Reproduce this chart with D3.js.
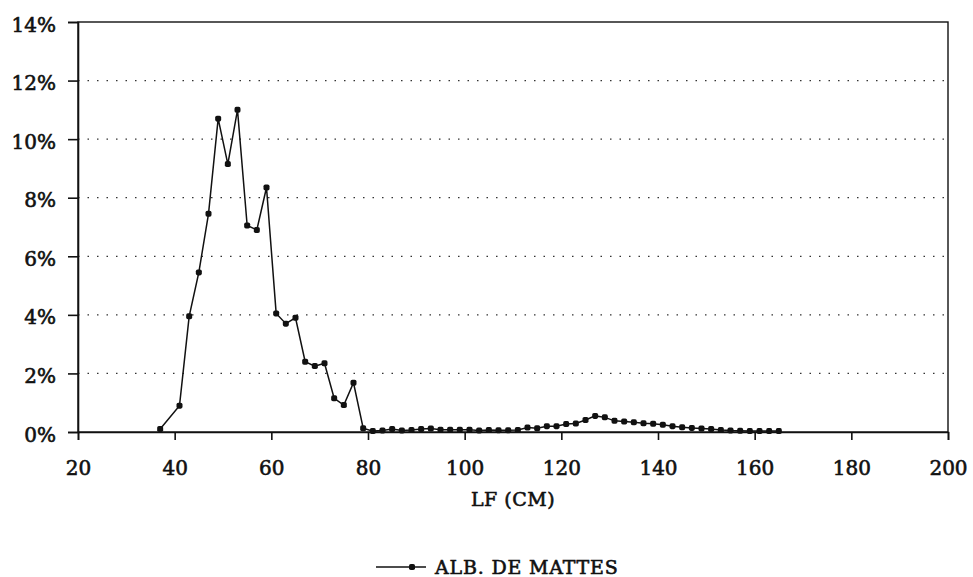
<!DOCTYPE html>
<html><head><meta charset="utf-8">
<script src="https://cdn.jsdelivr.net/npm/d3@7"></script>
<style>
html,body{margin:0;padding:0;background:#fff;}
text{font-family:"DejaVu Serif","Liberation Serif",serif;fill:#111;}
</style></head>
<body>
<svg id="chart" width="973" height="577"></svg>
<script>
const lengths = [37,41,43,45,47,49,51,53,55,57,59,61,63,65,67,69,71,73,75,77,79,81,83,85,87,89,91,93,95,97,99,101,103,105,107,109,111,113,115,117,119,121,123,125,127,129,131,133,135,137,139,141,143,145,147,149,151,153,155,157,159,161,163,165];
const percents = [0.1,0.9,3.95,5.45,7.45,10.7,9.15,11.0,7.05,6.9,8.35,4.05,3.7,3.9,2.4,2.25,2.35,1.15,0.92,1.68,0.13,0.03,0.05,0.1,0.05,0.07,0.1,0.12,0.08,0.08,0.08,0.08,0.05,0.07,0.06,0.06,0.07,0.15,0.13,0.2,0.2,0.27,0.29,0.41,0.55,0.5,0.38,0.36,0.33,0.3,0.28,0.25,0.2,0.16,0.14,0.12,0.1,0.07,0.05,0.04,0.03,0.03,0.03,0.03];
const xTicks = [20,40,60,80,100,120,140,160,180,200];
const yTicks = [0,2,4,6,8,10,12,14];
const xTitle = "LF (CM)";
const seriesName = "ALB. DE MATTES";

const svg = d3.select("#chart");
const m = {left:78, right:948, top:22, bottom:432};
const x = d3.scaleLinear().domain([20,200]).range([m.left, m.right]);
const y = d3.scaleLinear().domain([0,14]).range([m.bottom, m.top]);

// gridlines
svg.append("g").selectAll("line").data(yTicks.filter(d=>d>0 && d<14)).join("line")
  .attr("x1", m.left).attr("x2", m.right)
  .attr("y1", d=>y(d)).attr("y2", d=>y(d))
  .attr("stroke","#333").attr("stroke-width",1.2).attr("stroke-dasharray","1.5,8");

// frame
svg.append("rect").attr("x",m.left).attr("y",m.top).attr("width",m.right-m.left).attr("height",m.bottom-m.top)
  .attr("fill","none").attr("stroke","#111").attr("stroke-width",1.4);

// axes
const xAxis = svg.append("g").attr("transform",`translate(0,${m.bottom})`)
  .call(d3.axisBottom(x).tickValues(xTicks).tickSize(8).tickPadding(21).tickFormat(d3.format("d")));
const yAxis = svg.append("g").attr("transform",`translate(${m.left},0)`)
  .call(d3.axisLeft(y).tickValues(yTicks).tickSize(10).tickPadding(12).tickFormat(d=>d+"%"));
[xAxis,yAxis].forEach(g=>{
  g.select(".domain").attr("stroke","#111").attr("stroke-width",1.6);
  g.selectAll(".tick line").attr("stroke","#111").attr("stroke-width",1.6);
  g.selectAll(".tick text").attr("font-size",20).attr("fill","#111")
   .style("font-family","'DejaVu Serif',serif").attr("stroke","#111").attr("stroke-width",0.6);
});
yAxis.selectAll(".tick text").attr("dy","0.45em");

svg.append("text").attr("x",(x(20)+x(200))/2).attr("y",506).attr("text-anchor","middle")
  .attr("font-size",19).attr("stroke","#111").attr("stroke-width",0.6).attr("letter-spacing",0.5).text(xTitle);

// series
const data = lengths.map((l,i)=>({l, p:percents[i]}));
svg.append("path").datum(data)
  .attr("d", d3.line().x(d=>x(d.l)).y(d=>y(d.p)))
  .attr("fill","none").attr("stroke","#111").attr("stroke-width",1.5);
svg.append("g").selectAll("rect").data(data).join("rect")
  .attr("x",d=>x(d.l)-3).attr("y",d=>y(d.p)-3).attr("width",6).attr("height",6)
  .attr("rx",1.8).attr("fill","#111");

// legend
const lg = svg.append("g");
lg.append("line").attr("x1",376).attr("x2",426).attr("y1",567).attr("y2",567).attr("stroke","#111").attr("stroke-width",1.6);
lg.append("rect").attr("x",412-3).attr("y",567-3).attr("width",6).attr("height",6).attr("rx",1.8).attr("fill","#111");
lg.append("text").attr("x",435).attr("y",574).attr("font-size",19).attr("stroke","#111").attr("stroke-width",0.6)
  .attr("letter-spacing",0.8).text(seriesName);
</script>
</body></html>
